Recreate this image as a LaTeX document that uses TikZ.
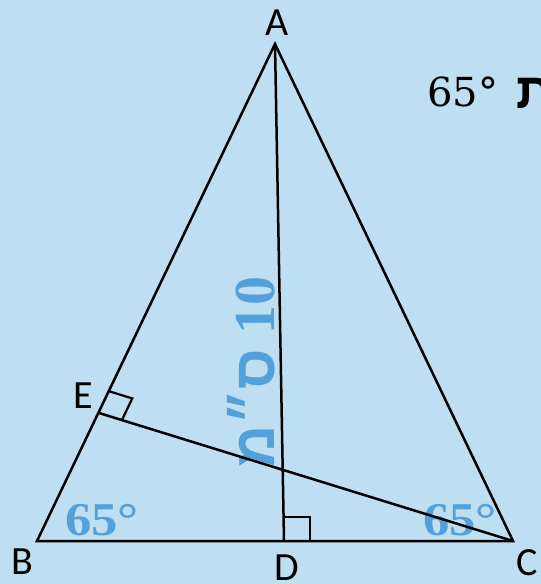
\documentclass[tikz,border=0pt]{standalone}
\usepackage{fontspec}
\usetikzlibrary{calc}
\setmainfont{Liberation Serif}
\newfontfamily\lblfont{Carlito}
\newfontfamily\dvserif{DejaVu Serif}
\newfontfamily\hebfont[Script=Hebrew]{Liberation Sans}
\TeXXeTstate=1
\definecolor{bg}{RGB}{190,223,241}
\definecolor{blu}{RGB}{84,160,218}
\begin{document}
\begin{tikzpicture}[x=1pt,y=-1pt,
  edge/.style={line width=2.5pt, black},
  ramark/.style={line width=2.2pt, black},
  lbl/.style={inner sep=0pt, font=\lblfont\fontsize{40}{40}\selectfont},
  angtxt/.style={inner sep=0pt, anchor=base west, text=blu, xscale=1.12, font=\bfseries\fontsize{47}{47}\selectfont}]
\useasboundingbox (0,0) rectangle (541,584);
\clip (0,0) rectangle (541,584);
\fill[bg] (0,0) rectangle (541,584);
\coordinate (A) at (275,44);
\coordinate (B) at (37,541);
\coordinate (C) at (513,541);
\coordinate (D) at (284,541);
\coordinate (E) at (99,413);
% texts
\node[angtxt] (tb) at (65,535) {65°};
\node[angtxt] (tc) at (423,535) {65°};
\node[inner sep=0pt, anchor=base west, font=\dvserif\fontsize{40}{40}\selectfont] (tt) at (427,106) {65°};
\node[inner sep=0pt, anchor=base west, font=\hebfont\bfseries\fontsize{50}{50}\selectfont] (tav) at (516,108) {\beginR ת\endR};
\node[rotate=90, inner sep=0pt, text=blu, font=\bfseries\fontsize{58}{58}\selectfont] (len) at (251,372)
  {\beginR\beginL 10\endL\ {\hebfont ס״מ}\endR};
% labels
\node[lbl] (la) at (277,23) {A};
\node[lbl] (lb) at (22,562) {B};
\node[lbl] (lc) at (527,563) {C};
\node[lbl] (ld) at (287,568) {D};
\node[lbl] (le) at (83,396) {E};
% lines
\draw[edge] (A) -- (B) -- (C) -- cycle;
\draw[edge] (A) -- (D);
\draw[edge] (E) -- (C);
% right angle marks
\coordinate (Ea) at ($(E)!24pt!(A)$);
\coordinate (Ec) at ($(E)!24pt!(C)$);
\draw[ramark] (Ea) -- ($(Ea)+(Ec)-(E)$) -- (Ec);
\draw[ramark] (D) ++(0,-24) -- ++(26,0) -- ++(0,24);
\draw[ramark] (D) -- ++(0,-24);
\end{tikzpicture}
\end{document}
